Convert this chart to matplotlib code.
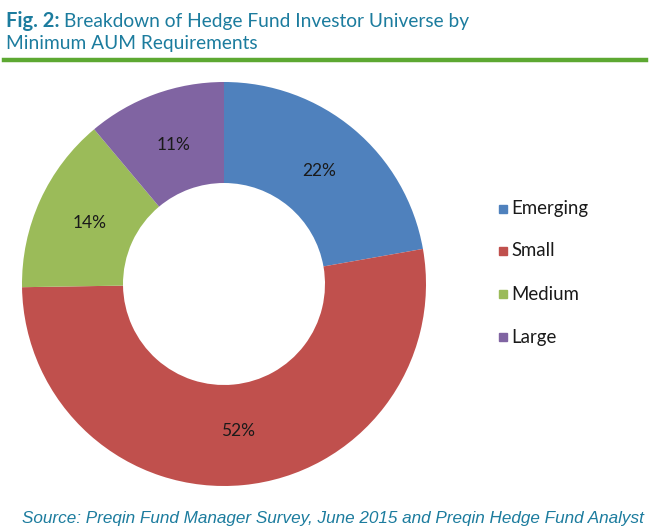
import matplotlib
matplotlib.use("Agg")
import matplotlib.pyplot as plt
from matplotlib.lines import Line2D

categories = ["Emerging", "Small", "Medium", "Large"]
shares = [22, 52, 14, 11]
colors = ["#4F81BD", "#C0504D", "#9BBB59", "#8064A2"]

title_color = "#1C7C9E"
W, H = 650, 532

fig = plt.figure(figsize=(W / 100, H / 100), dpi=100)

# title: bold figure number followed by the plain heading
fig_no = fig.text(6 / W, 1 - 21 / H, "Fig. 2:", fontsize=14.5, fontweight="bold",
                  color=title_color, family="Lato", va="center", ha="left")
renderer = fig.canvas.get_renderer()
x_end = fig_no.get_window_extent(renderer).x1
fig.text((x_end + 4) / W, 1 - 21 / H, "Breakdown of Hedge Fund Investor Universe by",
         fontsize=13.8, color=title_color, family="Lato",
         va="center", ha="left")
fig.text(6 / W, 1 - 43 / H, "Minimum AUM Requirements", fontsize=13.8,
         color=title_color, family="Lato",
         va="center", ha="left")
fig.add_artist(Line2D([4 / W, 646 / W], [1 - 60 / H, 1 - 60 / H],
                      color="#5DA832", lw=3.2, transform=fig.transFigure))

# doughnut
ax = fig.add_axes([22 / W, 1 - 486 / H, 404 / W, 404 / H])
wedges, texts = ax.pie(shares, colors=colors, startangle=90, counterclock=False,
                       radius=1.0, wedgeprops=dict(width=0.5, linewidth=0),
                       labels=[f"{v}%" for v in shares], labeldistance=0.73,
                       textprops=dict(fontsize=12.5, color="#1a1a1a", family="Lato"))
for t in texts:
    t.set_ha("center")
    t.set_va("center")
ax.set_xlim(-1, 1)
ax.set_ylim(-1, 1)
ax.set_aspect("equal")

# legend
leg_y = [209, 251, 294, 337]
for cat, col, y in zip(categories, colors, leg_y):
    fig.patches.append(plt.Rectangle((499 / W, 1 - (y + 4) / H), 8 / W, 8 / H,
                                     color=col, transform=fig.transFigure))
    fig.text(511 / W, 1 - y / H, cat, fontsize=13.4, color="#1a1a1a",
             family="Lato", va="center", ha="left")

# source
fig.text(644 / W, 1 - 518 / H,
         "Source: Preqin Fund Manager Survey, June 2015 and Preqin Hedge Fund Analyst",
         fontsize=12.35, style="italic", color=title_color,
         family="Liberation Sans", va="center", ha="right")

fig.savefig("out.png", dpi=100)
